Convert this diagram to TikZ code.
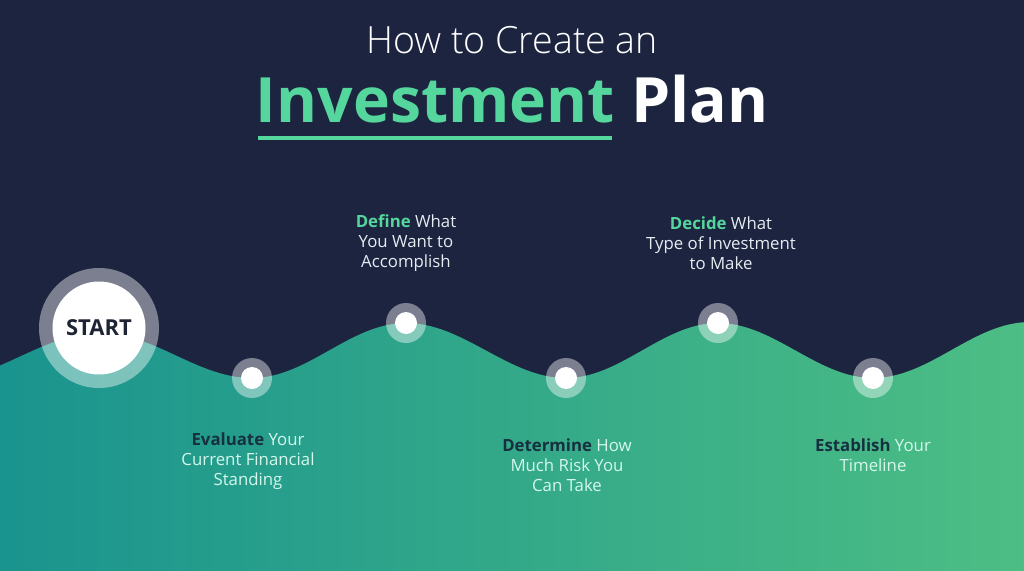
\documentclass[tikz,border=0pt]{standalone}
\usepackage{fontspec}
\setmainfont{Open Sans}
\newfontfamily\lightfont{Open Sans Light}
\definecolor{navy}{HTML}{1C2440}
\definecolor{tealL}{HTML}{17918F}
\definecolor{greenR}{HTML}{4DBE84}
\definecolor{titlegreen}{HTML}{54D69C}
\definecolor{topwhite}{HTML}{E6ECF2}
\definecolor{botdark}{HTML}{163040}
\definecolor{botlight}{HTML}{D5F7EC}
\definecolor{starttext}{HTML}{1E2433}
\tikzset{
  ring/.style={circle, fill=white, fill opacity=0.42, minimum size=40pt, inner sep=0pt},
  dot/.style={circle, fill=white, minimum size=22pt, inner sep=0pt},
  toplabel/.style={align=center, font=\fontsize{16.8}{20}\selectfont, text=topwhite, inner sep=0pt},
  botlabel/.style={align=center, font=\fontsize{16.8}{20}\selectfont, text=botlight, inner sep=0pt},
}
\begin{document}
\begin{tikzpicture}[x=1pt,y=-1pt]
\useasboundingbox (0,0) rectangle (1024,570);
\fill[navy] (0,0) rectangle (1024,570);
\begin{scope}
\clip (0,0) rectangle (1024,570);
\shade[left color=tealL, right color=greenR]
  (-60,380) .. controls (-2,380) and (42,333) .. (100,333)
  .. controls (155,333) and (197,378) .. (252,378)
  .. controls (308,378) and (350,323) .. (406,323)
  .. controls (464,323) and (508,378) .. (566,378)
  .. controls (621,378) and (663,323) .. (718,323)
  .. controls (774,323) and (817,378) .. (873,378)
  .. controls (930,378) and (973,322) .. (1030,322)
  -- (1030,575) -- (-60,575) -- cycle;
\end{scope}

% title
\node[anchor=base, font=\lightfont\fontsize{37.5}{42}\selectfont, text=white, inner sep=0pt] (t1) at (512,53) {How to Create an};
\node[anchor=base, font=\bfseries\fontsize{62.5}{70}\selectfont, text=white, inner sep=0pt] (t2) at (512,122) {\textcolor{titlegreen}{Investment} Plan};
\draw[titlegreen, line width=3.5pt] (258,138) -- (612,138);

% start
\node[circle, fill=white, fill opacity=0.42, minimum size=120pt, inner sep=0pt] (startring) at (99,328) {};
\node[circle, fill=white, minimum size=93pt, inner sep=0pt, font=\bfseries\fontsize{22}{26}\selectfont, text=starttext] (start) at (99,328) {START};

% steps
\node[ring] (r1) at (252,378) {};
\node[dot] (d1) at (252,378) {};
\node[ring] (r2) at (406,323) {};
\node[dot] (d2) at (406,323) {};
\node[ring] (r3) at (566,378) {};
\node[dot] (d3) at (566,378) {};
\node[ring] (r4) at (718,323) {};
\node[dot] (d4) at (718,323) {};
\node[ring] (r5) at (873,378) {};
\node[dot] (d5) at (873,378) {};

% labels
\node[botlabel] (l1) at (248,461) {\textbf{\textcolor{botdark}{Evaluate}} Your\\Current Financial\\Standing};
\node[toplabel] (l2) at (406,243) {\textbf{\textcolor{titlegreen}{Define}} What\\You Want to\\Accomplish};
\node[botlabel] (l3) at (567,465) {\textbf{\textcolor{botdark}{Determine}} How\\Much Risk You\\Can Take};
\node[toplabel] (l4) at (721,243) {\textbf{\textcolor{titlegreen}{Decide}} What\\Type of Investment\\to Make};
\node[botlabel] (l5) at (873,455) {\textbf{\textcolor{botdark}{Establish}} Your\\Timeline};
\end{tikzpicture}
\end{document}
